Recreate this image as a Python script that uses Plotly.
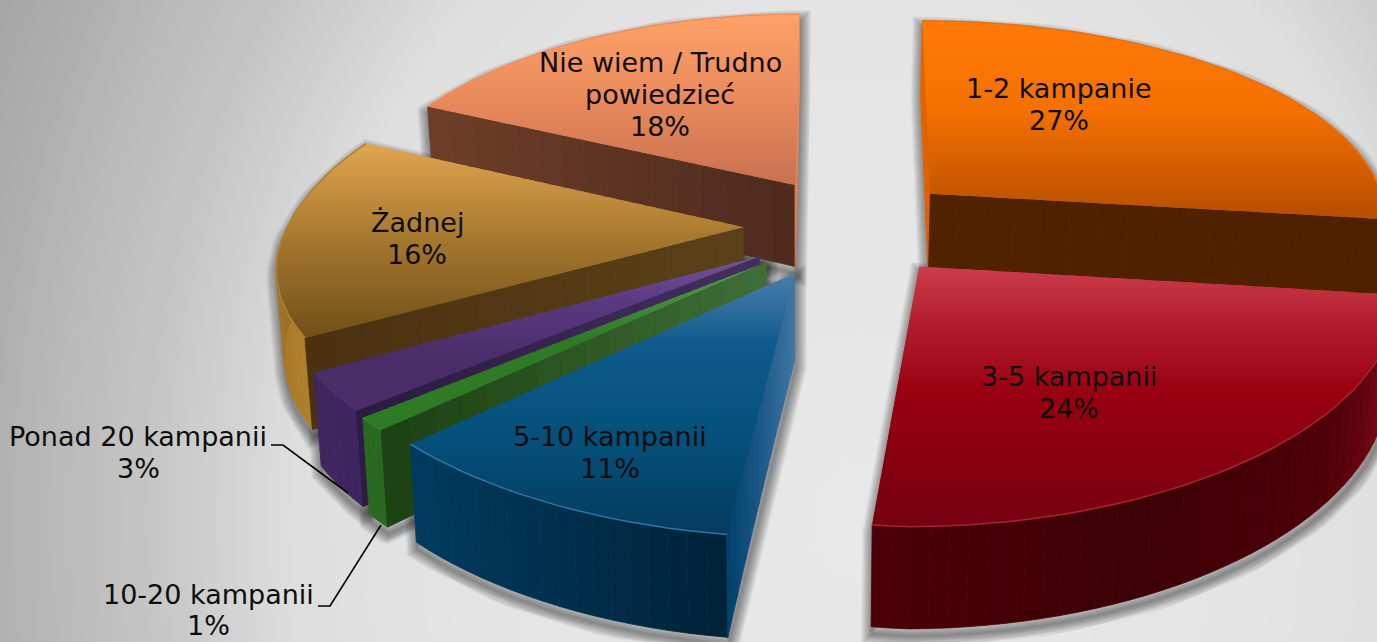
import math
import numpy as np
import plotly.graph_objects as go

# ---- data ----
categories = ["1-2 kampanie", "3-5 kampanii", "5-10 kampanii", "10-20 kampanii",
              "Ponad 20 kampanii", "Żadnej", "Nie wiem / Trudno powiedzieć"]
values = [27, 24, 11, 1, 3, 16, 18]
label_lines = [["1-2 kampanie"], ["3-5 kampanii"], ["5-10 kampanii"], ["10-20 kampanii"],
               ["Ponad 20 kampanii"], ["Żadnej"], ["Nie wiem / Trudno", "powiedzieć"]]

# ---- projection of the exploded pie (style) ----
W, H_PX = 1377, 642
CX, CY, RX, RY = 845, 226, 440, 208
PERSP = 0.15
EXPLODE = 0.24
DEPTH = 84
BOTTOM_SCALE = 0.985
BOTTOM_CX = 800
WARP_A, WARP_B, WARP_C, WARP_D, WARP_F = -9, 18, -16, 12, 24
SLICE_NUDGE = [(8, 0), (5, 1), (-7, 0), (-2, 0), (0, -1), (4, -2), (5, 0)]
SLICE_SKEW = [(-5, 5), (0, 0), (0, 0), (0, 0), (0, 0), (0, 0), (-10, -13)]

def pt(o, a, r, nudge, skew):
    """A point of a slice: slice offset o, angle a, radial fraction r."""
    du, dv = math.sin(a), -math.cos(a)
    dx = r * (WARP_A + WARP_B * du + WARP_C * dv + WARP_D * du * du + skew[0] + skew[1] * du) + nudge[0]
    dy = r * WARP_F * min(du, 0) * max(dv, 0) + nudge[1]
    return (o[0] + r * du, o[1] + r * dv, dx, dy)

def proj(p, bottom=False):
    u, v, dx, dy = p
    w = 1 - PERSP * v
    x = CX + RX * u / w + dx
    y = CY + RY * v / w + dy
    if bottom:
        y += DEPTH / w
        x = BOTTOM_CX + (x - BOTTOM_CX) * BOTTOM_SCALE
    return (x, y)

# ---- colours (style) ----
STYLE = [
    dict(top=[(20, "#ff7a08"), (110, "#f47000"), (215, "#b85000")],
         start=("#e06000", "#e46400"), end=("#512200", "#4e2000"),
         rim=["#b85000", "#d06000"], bevel="#e87010"),
    dict(top=[(267, "#cc3c4c"), (330, "#b01a2a"), (395, "#980010"), (525, "#760010")],
         start=("#4a0005", "#4a0005"), end=("#600008", "#600008"),
         rim=["#901020", "#500008", "#3c0005", "#4a0006"], bevel="#a82430"),
    dict(top=[(275, "#4a7eaa"), (345, "#0e5a8c"), (440, "#04507a"), (540, "#043a5c")],
         start=("#3e76a4", "#00406c"), end=("#003050", "#003050"),
         rim=["#002238", "#00304e", "#003c60"], bevel="#2a78a8"),
    dict(top=[(262, "#5a9a50"), (340, "#2f7a25"), (430, "#2f7a25")],
         start=("#3f7038", "#1c4012"), end=("#1c4012", "#1c4012"),
         rim=["#2a6a20", "#2a6a20"], bevel="#348028"),
    dict(top=[(256, "#74549a"), (300, "#5a3a80"), (360, "#4a2c68")],
         start=("#443060", "#2c1a42"), end=("#3e2560", "#3e2560"),
         rim=["#3e2560", "#40265f"], bevel="#4c3070"),
    dict(top=[(142, "#e2a650"), (235, "#a87a30"), (345, "#6c4c16")],
         start=("#5c4218", "#4a3010"), end=("#7a5420", "#7a5420"),
         rim=["#b0802c", "#8a6020"], bevel="#b08030"),
    dict(top=[(13, "#ffa268"), (100, "#e88a5c"), (185, "#c87050")],
         start=("#4e2a1e", "#6e3e28"), end=("#d8784a", "#f09058"),
         rim=["#a06038", "#a06038"], bevel="#f09058"),
]
DRAW_ORDER = [6, 0, 5, 4, 3, 2, 1]
LABEL_POS = [(1059, 88), (1069, 376), (610, 436), (208, 594), (138, 436), (417, 222), (660, 62)]
LINE_STEP = [32, 32, 32, 31, 32, 32, 32]
FONT = "DejaVu Sans"
FONT_SIZE = 27

def hex2rgb(h):
    return tuple(int(h[i:i + 2], 16) for i in (1, 3, 5))

def mix(a, b, t):
    a, b = hex2rgb(a), hex2rgb(b)
    return "rgb(%d,%d,%d)" % tuple(round(a[i] + (b[i] - a[i]) * t) for i in range(3))

def stop_colour(stops, y):
    if y <= stops[0][0]:
        return mix(stops[0][1], stops[0][1], 0)
    for (y0, c0), (y1, c1) in zip(stops, stops[1:]):
        if y <= y1:
            return mix(c0, c1, (y - y0) / (y1 - y0))
    return mix(stops[-1][1], stops[-1][1], 0)

def even_colour(cols, t):
    t = max(0, min(1, t)) * (len(cols) - 1)
    i = min(int(t), len(cols) - 2)
    return mix(cols[i], cols[i + 1], t - i)

def clip_half(poly, y_lim, keep_below):
    out = []
    for i, p in enumerate(poly):
        q = poly[(i + 1) % len(poly)]
        pin = (p[1] >= y_lim) if keep_below else (p[1] <= y_lim)
        qin = (q[1] >= y_lim) if keep_below else (q[1] <= y_lim)
        if pin:
            out.append(p)
        if pin != qin:
            t = (y_lim - p[1]) / (q[1] - p[1])
            out.append((p[0] + t * (q[0] - p[0]), y_lim))
    return out

def hull(points):
    pts = sorted(set(points))
    def half(seq):
        h = []
        for p in seq:
            while len(h) >= 2 and (h[-1][0] - h[-2][0]) * (p[1] - h[-2][1]) - (h[-1][1] - h[-2][1]) * (p[0] - h[-2][0]) <= 0:
                h.pop()
            h.append(p)
        return h[:-1]
    return half(pts) + half(pts[::-1])

fig = go.Figure()

# background
gx = np.linspace(0, W, 70)
gy = np.linspace(0, H_PX, 34)
X, Y = np.meshgrid(gx, gy)
dist = np.hypot(X - 860, 0.8 * (Y - 520))
grey = np.interp(dist, [0, 400, 568, 700, 823, 865, 955], [232, 228, 222, 199, 183, 176, 166])
fig.add_trace(go.Heatmap(x=gx, y=gy, z=grey, zmin=0, zmax=255, zsmooth="best",
                         colorscale=[[0, "#000000"], [1, "#ffffff"]], showscale=False,
                         hoverinfo="skip"))

def poly_trace(points, colour, lw=0.8):
    xs = [p[0] for p in points] + [points[0][0]]
    ys = [p[1] for p in points] + [points[0][1]]
    fig.add_trace(go.Scatter(x=xs, y=ys, mode="lines", fill="toself", fillcolor=colour,
                             line=dict(color=colour, width=lw), hoverinfo="skip", showlegend=False))

# geometry from the values
total = sum(values)
edges = np.cumsum([0] + values) / total * 2 * math.pi
slices = []
for i in range(len(values)):
    a0, a1 = float(edges[i]), float(edges[i + 1])
    mid = (a0 + a1) / 2
    o = (EXPLODE * math.sin(mid), -EXPLODE * math.cos(mid))
    n = max(4, int((a1 - a0) / math.radians(2)))
    angles = [float(a) for a in np.linspace(a0, a1, n + 1)]
    slices.append(dict(o=o, a0=a0, a1=a1, angles=angles, nudge=SLICE_NUDGE[i], skew=SLICE_SKEW[i],
                       arc=[pt(o, a, 1.0, SLICE_NUDGE[i], SLICE_SKEW[i]) for a in angles],
                       apex=pt(o, mid, 0.0, SLICE_NUDGE[i], SLICE_SKEW[i])))

# soft shadows below everything
for s in slices:
    pts = [proj(s["apex"]), proj(s["apex"], True)]
    for p in s["arc"]:
        pts += [proj(p), proj(p, True)]
    h = [(x + 1, y + 7) for x, y in hull(pts)]
    xs = [p[0] for p in h] + [h[0][0], h[1][0]]
    ys = [p[1] for p in h] + [h[0][1], h[1][1]]
    for width in range(2, 24, 2):
        fig.add_trace(go.Scatter(x=xs, y=ys, mode="lines", line=dict(color="rgba(0,0,0,0.045)", width=width),
                                 hoverinfo="skip", showlegend=False))

def wall(s, a, cols):
    steps = 16
    for k in range(steps):
        t0, t1 = k / steps, (k + 1) / steps
        p, q = pt(s["o"], a, t0, s["nudge"], s["skew"]), pt(s["o"], a, t1, s["nudge"], s["skew"])
        poly_trace([proj(p), proj(q), proj(q, True), proj(p, True)], mix(cols[0], cols[1], (t0 + t1) / 2))

for i in DRAW_ORDER:
    s, st = slices[i], STYLE[i]
    arc, angles = s["arc"], s["angles"]
    m = len(arc) - 1
    for k in range(m):
        if -math.cos((angles[k] + angles[k + 1]) / 2) > -0.03:
            poly_trace([proj(arc[k]), proj(arc[k + 1]), proj(arc[k + 1], True), proj(arc[k], True)],
                       even_colour(st["rim"], (k + 0.5) / m))
    # only the faces turned towards the viewer
    if -math.sin(s["a0"]) >= -1e-6:
        wall(s, s["a0"], st["start"])
    if math.sin(s["a1"]) >= -1e-6:
        wall(s, s["a1"], st["end"])
    face = [proj(s["apex"])] + [proj(p) for p in arc]
    ymin, ymax = min(p[1] for p in face), max(p[1] for p in face)
    band = 3
    yy = math.floor(ymin)
    while yy < ymax:
        # each band overlaps the next one, which is painted over it: no seams
        part = clip_half(clip_half(face, yy, True), yy + band + 2, False)
        if len(part) >= 3:
            poly_trace(part, stop_colour(st["top"], yy + band / 2), lw=0)
        yy += band
    arc_pts = [proj(p) for p in arc]
    fig.add_trace(go.Scatter(x=[p[0] for p in arc_pts], y=[p[1] for p in arc_pts], mode="lines",
                             line=dict(color=st["bevel"], width=1.5), hoverinfo="skip", showlegend=False))

for i, c in enumerate(categories):
    lines = label_lines[i] + [f"{values[i]}%"]
    for j, text in enumerate(lines):
        fig.add_annotation(x=LABEL_POS[i][0], y=LABEL_POS[i][1] + j * LINE_STEP[i], xref="x", yref="y",
                           showarrow=False, text=text, align="center", xanchor="center", yanchor="middle",
                           font=dict(family=FONT, size=FONT_SIZE, color="#0d0d0d"))

leader = dict(type="path", line=dict(color="#000000", width=1.6), xref="x", yref="y")
fig.add_shape(path="M 271 445 L 283 445 L 348 493", **leader)
fig.add_shape(path="M 318 606 L 330 606 L 381 525", **leader)

fig.update_layout(width=W, height=H_PX, margin=dict(l=0, r=0, t=0, b=0), showlegend=False,
                  paper_bgcolor="#dddddd", plot_bgcolor="#dddddd",
                  xaxis=dict(range=[0, W], visible=False, fixedrange=True),
                  yaxis=dict(range=[H_PX, 0], visible=False, fixedrange=True))
fig.write_html("out.html", config=dict(displayModeBar=False),
               post_script="document.body.style.margin='0';document.documentElement.style.overflow='hidden';")
